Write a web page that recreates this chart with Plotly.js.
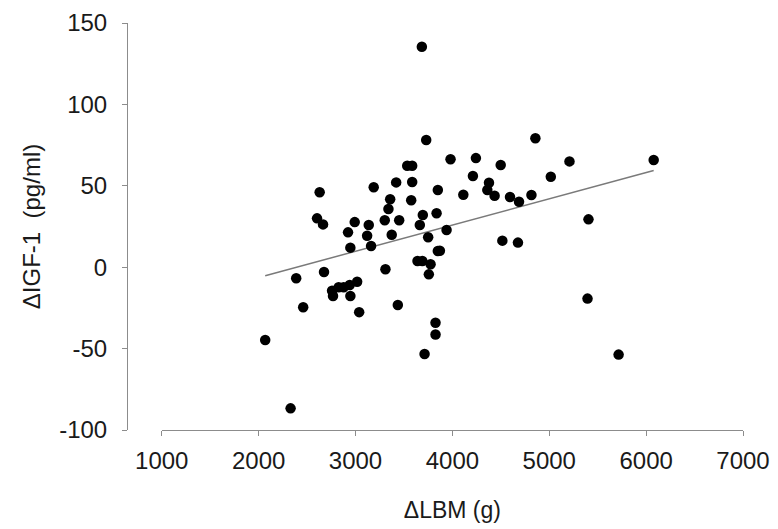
<!DOCTYPE html>
<html>
<head>
<meta charset="utf-8">
<script src="https://cdn.plot.ly/plotly-3.0.1.min.js"></script>
<style>html,body{margin:0;padding:0;background:#fff;}#chart{width:778px;height:529px;}</style>
</head>
<body>
<div id="chart"></div>
<script>
// ΔLBM (g)
var lbm = [2068, 2330, 2388, 2460, 2630, 2603, 2665, 2675, 2758, 2768,
           2826, 2878, 2940, 2947, 3017, 3038, 2923, 2947, 2992, 3120,
           3137, 3161, 3188, 3302, 3309, 3340, 3358, 3374, 3420, 3437,
           3451, 3534, 3585, 3585, 3575, 3640, 3690, 3664, 3685, 3695,
           3713, 3730, 3750, 3757, 3775, 3826, 3826, 3837, 3850, 3850,
           3871, 3940, 3981, 4113, 4212, 4243, 4361, 4378, 4436, 4499,
           4516, 4595, 4677, 4688, 4816, 4857, 5016, 5209, 5395, 5405,
           5716, 6078];
// ΔIGF-1 (pg/ml)
var igf = [-44.7, -86.7, -6.8, -24.6, 46.0, 30.0, 26.3, -3.0, -14.4, -17.7,
           -12.3, -12.3, -10.9, -17.7, -8.9, -27.6, 21.4, 12.0, 27.7, 19.3,
           25.9, 13.0, 49.1, 28.8, -1.3, 35.7, 41.7, 19.9, 52.1, -23.2,
           28.8, 62.3, 62.3, 52.3, 41.1, 3.8, 3.8, 25.9, 135.4, 32.1,
           -53.3, 78.1, 18.4, -4.4, 1.8, -34.1, -41.3, 33.1, 47.4, 10.0,
           10.1, 22.9, 66.3, 44.5, 56.0, 67.0, 47.4, 51.9, 43.9, 62.8,
           16.3, 43.1, 15.1, 40.2, 44.3, 79.2, 55.6, 65.0, -19.3, 29.4,
           -53.7, 65.8];
var xTicks = [1000, 2000, 3000, 4000, 5000, 6000, 7000];
var xTickLabels = ['1000', '2000', '3000', '4000', '5000', '6000', '7000'];
var yTicks = [-100, -50, 0, 50, 100, 150];
var yTickLabels = ['-100', '-50', '0', '50', '100', '150'];
var xTitle = 'ΔLBM (g)';
var yTitle = 'ΔIGF-1  (pg/ml)';

// least-squares linear trendline over the data range
var n = lbm.length, sx = 0, sy = 0, sxx = 0, sxy = 0;
for (var i = 0; i < n; i++) { sx += lbm[i]; sy += igf[i]; sxx += lbm[i]*lbm[i]; sxy += lbm[i]*igf[i]; }
var slope = (n*sxy - sx*sy) / (n*sxx - sx*sx);
var intercept = (sy - slope*sx) / n;
var xMin = Math.min.apply(null, lbm), xMax = Math.max.apply(null, lbm);
var trendX = [xMin, xMax];
var trendY = trendX.map(function (v) { return intercept + slope*v; });

var font = 'Liberation Sans, Arial, sans-serif';
var axisColor = '#8c8c8c';
var textColor = '#1a1a1a';

var data = [
  {x: trendX, y: trendY, type: 'scatter', mode: 'lines',
   line: {color: '#7a7a7a', width: 1.5}, hoverinfo: 'skip', showlegend: false},
  {x: lbm, y: igf, type: 'scatter', mode: 'markers',
   marker: {color: '#000000', size: 10.5}, showlegend: false}
];

var layout = {
  width: 778, height: 529,
  margin: {l: 127, r: 35, t: 23, b: 99, pad: 0},
  paper_bgcolor: '#ffffff', plot_bgcolor: '#ffffff',
  font: {family: font, color: textColor, size: 24},
  xaxis: {
    domain: [0.0564, 1], range: [1000, 7000], tickvals: xTicks, ticktext: xTickLabels,
    showgrid: false, zeroline: false, showline: true, linecolor: axisColor, linewidth: 1,
    ticks: 'outside', ticklen: 5, tickcolor: axisColor, tickwidth: 1,
    tickfont: {family: font, size: 24, color: textColor}, ticklabelstandoff: 4,
    title: {text: xTitle, font: {family: font, size: 23, color: textColor}, standoff: 29},
    automargin: false, fixedrange: true
  },
  yaxis: {
    anchor: 'free', position: 0, range: [-100, 150], tickvals: yTicks, ticktext: yTickLabels,
    showgrid: false, zeroline: false, showline: true, linecolor: axisColor, linewidth: 1,
    ticks: 'outside', ticklen: 5, tickcolor: axisColor, tickwidth: 1,
    tickfont: {family: font, size: 24, color: textColor}, ticklabelstandoff: 10,
    title: {text: yTitle, font: {family: font, size: 24, color: textColor}, standoff: 10},
    automargin: false, fixedrange: true
  },
  showlegend: false
};

Plotly.newPlot('chart', data, layout, {displayModeBar: false, staticPlot: true});
</script>
</body>
</html>
